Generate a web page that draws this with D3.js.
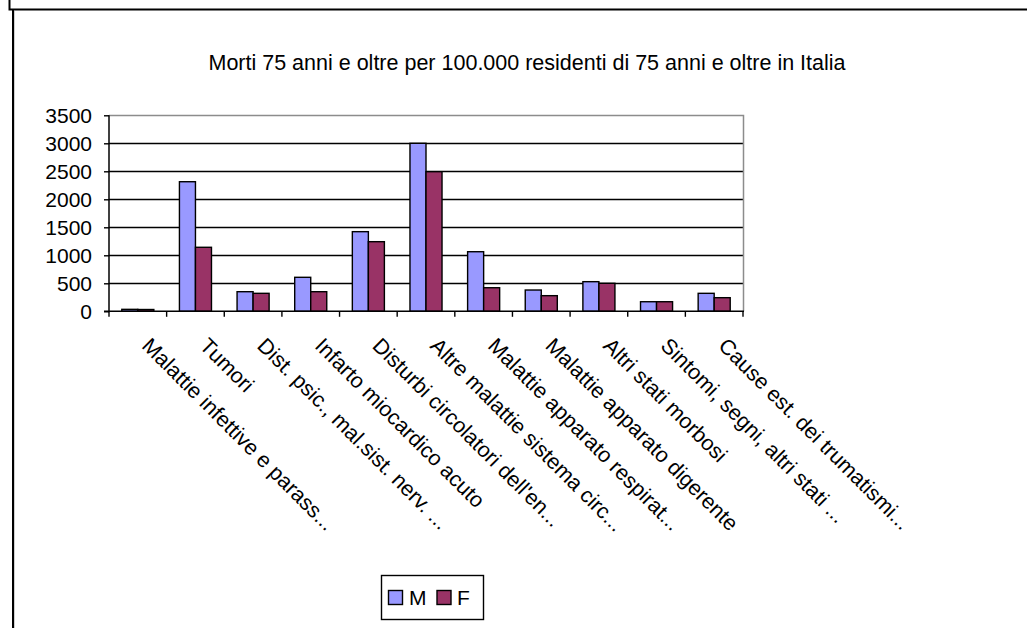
<!DOCTYPE html>
<html><head><meta charset="utf-8">
<script src="https://cdn.jsdelivr.net/npm/d3@7"></script>
<style>
body{margin:0;background:#fff}
svg{display:block;font-family:"Liberation Sans",Arial,sans-serif}
</style>
</head><body>
<svg id="c" width="1027" height="628"></svg>
<script>
const title = "Morti 75 anni e oltre per 100.000 residenti di 75 anni e oltre in Italia";
const categories = [
  "Malattie infettive e parass...",
  "Tumori",
  "Dist. psic., mal.sist. nerv. ...",
  "Infarto miocardico acuto",
  "Disturbi circolatori dell'en...",
  "Altre malattie sistema circ...",
  "Malattie apparato respirat...",
  "Malattie apparato digerente",
  "Altri stati morbosi",
  "Sintomi, segni, altri stati ...",
  "Cause est. dei trumatismi..."
];
const seriesNames = ["M", "F"];
const valuesM = [35, 2314, 350, 607, 1422, 3000, 1064, 380, 529, 171, 321];
const valuesF = [32, 1143, 321, 350, 1243, 2493, 421, 279, 500, 171, 243];
const yTicks = [0, 500, 1000, 1500, 2000, 2500, 3000, 3500];
const colors = {M: "#9999FF", F: "#993366"};

const svg = d3.select("#c");
svg.append("rect").attr("width", 1027).attr("height", 628).attr("fill", "#fff");

// outer frame
svg.append("path").attr("d", "M9.5,0V9.5H1027").attr("fill", "none").attr("stroke", "#000").attr("stroke-width", 2);
svg.append("line").attr("x1", 13).attr("x2", 13).attr("y1", 9).attr("y2", 628).attr("stroke", "#000").attr("stroke-width", 2);
svg.append("line").attr("x1", 14.5).attr("x2", 14.5).attr("y1", 11).attr("y2", 628).attr("stroke", "#d0d0d0").attr("stroke-width", 1);

const L = 109, R = 743, T = 115.3, B = 311.3;
const x = d3.scaleBand().domain(categories).range([L, R]).paddingInner(0).paddingOuter(0);
const bw = x.bandwidth();
const groupW = bw * 0.556;
const x1 = d3.scaleBand().domain(seriesNames).range([(bw - groupW) / 2, (bw + groupW) / 2]);
const y = d3.scaleLinear().domain([0, 3500]).range([B, T]);

// title
svg.append("text").attr("x", 527).attr("y", 69.5).attr("text-anchor", "middle")
  .attr("font-size", 21.5).attr("fill", "#000").text(title);

// gridlines
svg.append("g").selectAll("line").data(yTicks.filter(d => d > 0 && d < 3500)).join("line")
  .attr("x1", L).attr("x2", R).attr("y1", d => Math.round(y(d)) + 0.5).attr("y2", d => Math.round(y(d)) + 0.5)
  .attr("stroke", "#000").attr("stroke-width", 1.4);

// plot area border top/right (gray)
svg.append("path").attr("d", `M${L},${Math.round(T)+0.5}H${R+0.5}V${B}`).attr("fill", "none")
  .attr("stroke", "#8c8c8c").attr("stroke-width", 1.5);

// bars
const data = categories.map((c, i) => ({c, M: valuesM[i], F: valuesF[i]}));
const g = svg.append("g");
g.selectAll("g").data(data).join("g")
  .attr("transform", d => `translate(${x(d.c)},0)`)
  .selectAll("rect").data(d => seriesNames.map(s => ({s, v: d[s]}))).join("rect")
  .attr("x", d => x1(d.s)).attr("width", x1.bandwidth())
  .attr("y", d => y(d.v)).attr("height", d => y(0) - y(d.v))
  .attr("fill", d => colors[d.s]).attr("stroke", "#000").attr("stroke-width", 1.4);

// y axis
const yAxis = d3.axisLeft(y).tickValues(yTicks).tickSize(5).tickPadding(12).tickFormat(d3.format("d"));
const ya = svg.append("g").attr("transform", `translate(${L},0)`).call(yAxis);
ya.select(".domain").remove();
ya.selectAll(".tick line").attr("stroke", "#000").attr("stroke-width", 1.4);
ya.selectAll(".tick text").attr("font-size", 21).attr("fill", "#000")
  .attr("font-family", "'Liberation Sans', Arial, sans-serif");
svg.append("line").attr("x1", L).attr("x2", L).attr("y1", T).attr("y2", B + 1)
  .attr("stroke", "#000").attr("stroke-width", 1.5);

// x axis
svg.append("line").attr("x1", L - 5).attr("x2", R + 1).attr("y1", B).attr("y2", B)
  .attr("stroke", "#000").attr("stroke-width", 1.5);
const bounds = categories.map(c => x(c)).concat([R]);
svg.append("g").selectAll("line").data(bounds).join("line")
  .attr("x1", d => d).attr("x2", d => d).attr("y1", B).attr("y2", B + 5.5)
  .attr("stroke", "#000").attr("stroke-width", 1.4);

svg.append("g").selectAll("text").data(categories).join("text")
  .attr("transform", c => `translate(${x(c) + bw / 2 + 3},347) rotate(45)`)
  .attr("font-size", 21.5).attr("fill", "#000").text(c => c);

// legend
const lg = svg.append("g");
lg.append("rect").attr("x", 381.5).attr("y", 575.5).attr("width", 102).attr("height", 44)
  .attr("fill", "#fff").attr("stroke", "#000").attr("stroke-width", 1.4);
const lx = [388.5, 437];
const ltx = [409, 457];
seriesNames.forEach((s, i) => {
  lg.append("rect").attr("x", lx[i]).attr("y", 590.5).attr("width", 14).attr("height", 14)
    .attr("fill", colors[s]).attr("stroke", "#000").attr("stroke-width", 1.4);
  lg.append("text").attr("x", ltx[i]).attr("y", 604.5).attr("font-size", 21).attr("fill", "#000").text(s);
});
</script>
</body></html>
